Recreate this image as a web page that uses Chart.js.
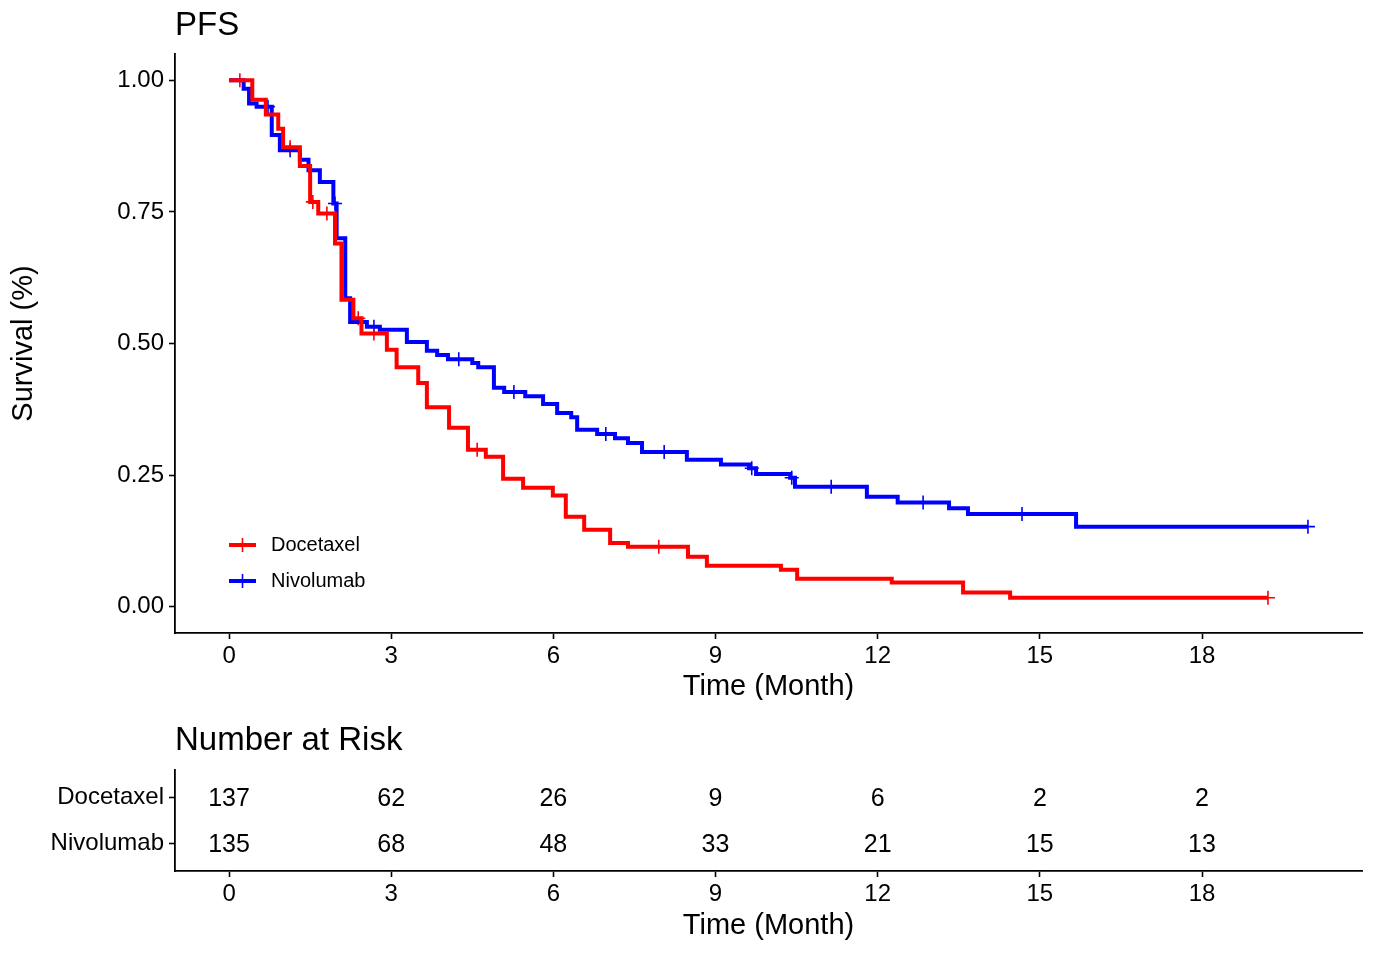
<!DOCTYPE html>
<html>
<head>
<meta charset="utf-8">
<script src="https://cdn.jsdelivr.net/npm/chart.js@4.4.0/dist/chart.umd.min.js"></script>
<style>
  body { margin: 0; background: #fff; }
  canvas { display: block; }
</style>
</head>
<body>
<canvas id="km" width="1375" height="700"></canvas>
<canvas id="risk" width="1375" height="253"></canvas>
<script>
// KM step points (time in months, survival after the drop)
const groups = ['Docetaxel', 'Nivolumab'];
const groupColors = ['#ff0000', '#0000ff'];

const docTime = [0, 0.43, 0.68, 0.91, 1.00, 1.31, 1.50, 1.65, 1.96, 2.08, 2.30, 2.45, 2.92, 3.10, 3.50,
  3.66, 4.07, 4.42, 4.75, 5.07, 5.44, 5.99, 6.23, 6.57, 7.05, 7.38, 8.49, 8.84, 10.21, 10.51,
  12.26, 13.58, 14.45, 19.22];
const docSurv = [1.000, 0.963, 0.935, 0.908, 0.873, 0.837, 0.769, 0.747, 0.690, 0.583, 0.548, 0.519, 0.488, 0.455, 0.425,
  0.379, 0.340, 0.298, 0.285, 0.243, 0.226, 0.211, 0.171, 0.146, 0.121, 0.114, 0.095, 0.078, 0.070, 0.053,
  0.046, 0.027, 0.017, 0.017];
const docCensor = [0.20, 1.13, 1.55, 1.81, 2.39, 2.68, 4.59, 7.95, 19.22];

const nivoTime = [0, 0.27, 0.37, 0.51, 0.79, 0.94, 1.31, 1.47, 1.68, 1.93, 1.99, 2.15, 2.24, 2.55, 2.79,
  3.29, 3.66, 3.85, 4.05, 4.50, 4.61, 4.90, 5.09, 5.48, 5.81, 6.07, 6.33, 6.44, 6.81, 7.14,
  7.38, 7.64, 8.47, 9.10, 9.62, 9.75, 10.38, 10.47, 11.80, 12.37, 13.32, 13.67, 15.67, 19.96];
const nivoSurv = [1.000, 0.984, 0.956, 0.950, 0.896, 0.867, 0.849, 0.829, 0.807, 0.766, 0.700, 0.586, 0.541, 0.532, 0.526,
  0.503, 0.486, 0.478, 0.470, 0.463, 0.455, 0.416, 0.408, 0.400, 0.385, 0.368, 0.360, 0.336, 0.328, 0.320,
  0.311, 0.294, 0.279, 0.270, 0.263, 0.252, 0.245, 0.228, 0.209, 0.198, 0.187, 0.176, 0.152, 0.152];
const nivoCensor = [0.72, 1.13, 1.96, 2.68, 4.25, 5.27, 6.97, 8.05, 9.67, 10.41, 11.14, 12.84, 14.67, 19.96];

const xTicks = [0, 3, 6, 9, 12, 15, 18];
const yTicks = [0, 0.25, 0.5, 0.75, 1];
const riskTimes = [0, 3, 6, 9, 12, 15, 18];
const docRisk = [137, 62, 26, 9, 6, 2, 2];
const nivoRisk = [135, 68, 48, 33, 21, 15, 13];

const FONT = "'Liberation Sans', Arial, Helvetica, sans-serif";
Chart.defaults.font.family = FONT;
Chart.defaults.color = '#000';

function survAt(times, surv, t) {
  let s = surv[0];
  for (let i = 0; i < times.length; i++) if (times[i] <= t) s = surv[i];
  return s;
}
const toPts = (xs, ys) => xs.map((x, i) => ({ x: x, y: ys[i] }));

function stepSet(times, surv, color) {
  return { data: toPts(times, surv), showLine: true, stepped: true, borderColor: color,
    borderWidth: 4, pointRadius: 0, fill: false };
}
function censorSet(cens, times, surv, color) {
  return { data: cens.map(t => ({ x: t, y: survAt(times, surv, t) })), showLine: false,
    pointStyle: 'cross', pointRadius: 7, borderWidth: 1.6, borderColor: color, backgroundColor: color };
}

// panel titles at top-left of the plot area
const cornerTitle = {
  id: 'cornerTitle',
  afterDraw(chart, args, opts) {
    const ctx = chart.ctx;
    ctx.save();
    ctx.font = opts.size + 'px ' + FONT;
    ctx.fillStyle = '#000';
    ctx.textBaseline = 'alphabetic';
    ctx.fillText(opts.text, chart.chartArea.left, opts.baseline);
    ctx.restore();
  }
};

const kmLegend = {
  id: 'kmLegend',
  afterDraw(chart) {
    const ctx = chart.ctx;
    const x0 = chart.chartArea.left + 54;
    ctx.save();
    groups.forEach((g, i) => {
      const y = 545 + i * 36;
      ctx.strokeStyle = groupColors[i];
      ctx.lineWidth = 4;
      ctx.beginPath(); ctx.moveTo(x0, y); ctx.lineTo(x0 + 27, y); ctx.stroke();
      ctx.lineWidth = 1.6;
      ctx.beginPath();
      ctx.moveTo(x0 + 13.5, y - 7); ctx.lineTo(x0 + 13.5, y + 7);
      ctx.stroke();
      ctx.fillStyle = '#000';
      ctx.font = '20px ' + FONT;
      ctx.textBaseline = 'middle';
      ctx.fillText(g, x0 + 42, y);
    });
    ctx.restore();
  }
};

const axisCommon = {
  grid: { drawOnChartArea: false, drawTicks: true, tickLength: 6, color: '#000', tickWidth: 1.6 },
  border: { display: true, color: '#000', width: 1.8 }
};

new Chart(document.getElementById('km'), {
  type: 'scatter',
  data: {
    datasets: [
      stepSet(docTime, docSurv, groupColors[0]),
      stepSet(nivoTime, nivoSurv, groupColors[1]),
      censorSet(docCensor, docTime, docSurv, groupColors[0]),
      censorSet(nivoCensor, nivoTime, nivoSurv, groupColors[1])
    ]
  },
  options: {
    responsive: false,
    animation: false,
    layout: { padding: { left: 0, right: 13, top: 54, bottom: 0 } },
    plugins: {
      legend: { display: false },
      tooltip: { enabled: false },
      cornerTitle: { text: 'PFS', baseline: 35, size: 33 }
    },
    scales: {
      x: {
        ...axisCommon,
        type: 'linear', min: -1.0, max: 20.96,
        afterBuildTicks: s => { s.ticks = xTicks.map(v => ({ value: v })); },
        afterFit: s => { s.height = 67; },
        ticks: { font: { size: 24 }, color: '#000', padding: 3, maxRotation: 0, autoSkip: false },
        title: { display: true, text: 'Time (Month)', font: { size: 29, lineHeight: 1.0 }, color: '#000', padding: { top: 0, bottom: -1 } }
      },
      y: {
        ...axisCommon,
        type: 'linear', min: -0.05, max: 1.05,
        afterBuildTicks: s => { s.ticks = yTicks.map(v => ({ value: v })); },
        afterFit: s => { s.width = 175; },
        ticks: { font: { size: 24 }, color: '#000', padding: 5, callback: v => Number(v).toFixed(2) },
        title: { display: true, text: 'Survival (%)', font: { size: 29, lineHeight: 1.2 }, color: '#000', padding: { top: 7, bottom: 0 } }
      }
    }
  },
  plugins: [cornerTitle, kmLegend]
});

// number at risk table
const riskRows = { Docetaxel: 2, Nivolumab: 1 };
const riskText = {
  id: 'riskText',
  afterDatasetsDraw(chart) {
    const ctx = chart.ctx;
    ctx.save();
    ctx.font = '25px ' + FONT;
    ctx.fillStyle = '#000';
    ctx.textAlign = 'center';
    ctx.textBaseline = 'middle';
    chart.data.datasets.forEach((ds, di) => {
      const meta = chart.getDatasetMeta(di);
      meta.data.forEach((pt, i) => ctx.fillText(String(ds.data[i].v), pt.x, pt.y + 2));
    });
    ctx.restore();
  }
};

new Chart(document.getElementById('risk'), {
  type: 'scatter',
  data: {
    datasets: [
      { data: riskTimes.map((t, i) => ({ x: t, y: riskRows.Docetaxel, v: docRisk[i] })), pointRadius: 0 },
      { data: riskTimes.map((t, i) => ({ x: t, y: riskRows.Nivolumab, v: nivoRisk[i] })), pointRadius: 0 }
    ]
  },
  options: {
    responsive: false,
    animation: false,
    layout: { padding: { left: 0, right: 13, top: 70, bottom: 0 } },
    plugins: {
      legend: { display: false },
      tooltip: { enabled: false },
      cornerTitle: { text: 'Number at Risk', baseline: 50, size: 33 }
    },
    scales: {
      x: {
        ...axisCommon,
        type: 'linear', min: -1.0, max: 20.96,
        afterBuildTicks: s => { s.ticks = xTicks.map(v => ({ value: v })); },
        afterFit: s => { s.height = 82; },
        ticks: { font: { size: 24 }, color: '#000', padding: 3, maxRotation: 0, autoSkip: false },
        title: { display: true, text: 'Time (Month)', font: { size: 29, lineHeight: 1.0 }, color: '#000', padding: { top: 0, bottom: 13 } }
      },
      y: {
        ...axisCommon,
        type: 'linear', min: 0.4, max: 2.6,
        afterBuildTicks: s => { s.ticks = [2, 1].map(v => ({ value: v })); },
        afterFit: s => { s.width = 175; },
        ticks: { font: { size: 24 }, color: '#000', padding: 5,
          callback: v => groups.find(g => riskRows[g] === v) || '' }
      }
    }
  },
  plugins: [cornerTitle, riskText]
});
</script>
</body>
</html>
